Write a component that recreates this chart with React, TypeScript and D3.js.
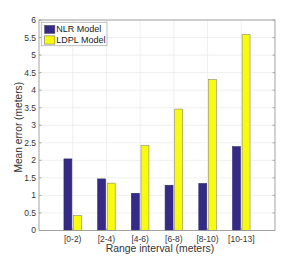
import * as d3 from "d3"

const categories = ["[0-2)", "[2-4)", "[4-6)", "[6-8)", "[8-10)", "[10-13]"]
const seriesNames = ["NLR Model", "LDPL Model"]
const nlrValues = [2.04, 1.47, 1.06, 1.29, 1.34, 2.39]
const ldplValues = [0.43, 1.35, 2.42, 3.46, 4.3, 5.59]
const yTicks = [0, 0.5, 1, 1.5, 2, 2.5, 3, 3.5, 4, 4.5, 5, 5.5, 6]
const colors = ["#352A87", "#F9FB0E"]

const W = 304
const H = 260
const margin = { left: 39, right: 29, top: 20, bottom: 29.5 }

export default function App() {
  const innerW = W - margin.left - margin.right
  const innerH = H - margin.top - margin.bottom

  // categories sit at 1..n on a 0..n+1 linear axis, like MATLAB's bar()
  const x = d3.scaleLinear().domain([0, categories.length + 1]).range([0, innerW])
  const y = d3.scaleLinear().domain([0, 6]).range([innerH, 0])
  const step = x(1) - x(0)
  const barW = step * 0.235
  const gap = step * 0.05

  const series = [nlrValues, ldplValues]
  const font = "'Liberation Sans', Arial, sans-serif"

  return (
    <svg width={W} height={H} style={{ position: "absolute", left: 0, top: 0 }} fontFamily={font}>
      <rect width={W} height={H} fill="#fff" />
      <g transform={`translate(${margin.left},${margin.top})`}>
        {/* grid */}
        {yTicks.map((t) => (
          <line key={"gy" + t} x1={0} x2={innerW} y1={y(t)} y2={y(t)} stroke="#ebebeb" strokeWidth={0.8} />
        ))}
        {categories.map((c, i) => (
          <line key={"gx" + c} x1={x(i + 1)} x2={x(i + 1)} y1={0} y2={innerH} stroke="#ebebeb" strokeWidth={0.8} />
        ))}

        {/* bars */}
        {series.map((vals, s) =>
          vals.map((v, i) => {
            const cx = x(i + 1)
            const bx = s === 0 ? cx - gap / 2 - barW : cx + gap / 2
            return (
              <rect
                key={s + "-" + i}
                x={bx}
                y={y(v)}
                width={barW}
                height={y(0) - y(v)}
                fill={colors[s]}
                stroke={s === 0 ? "#2a2a6a" : "#8a8a6a"}
                strokeWidth={0.6}
              />
            )
          }),
        )}

        {/* box */}
        <rect x={0} y={0} width={innerW} height={innerH} fill="none" stroke="#9a9a9a" strokeWidth={0.9} />

        {/* y ticks */}
        {yTicks.map((t) => (
          <g key={"yt" + t}>
            <line x1={0} x2={2.5} y1={y(t)} y2={y(t)} stroke="#9a9a9a" strokeWidth={0.8} />
            <line x1={innerW - 2.5} x2={innerW} y1={y(t)} y2={y(t)} stroke="#9a9a9a" strokeWidth={0.8} />
            <text x={-3} y={y(t)} dy="0.35em" textAnchor="end" fontSize={8.5} fill="#333">
              {d3.format("")(t)}
            </text>
          </g>
        ))}

        {/* x ticks */}
        {categories.map((c, i) => (
          <g key={"xt" + c}>
            <line x1={x(i + 1)} x2={x(i + 1)} y1={innerH} y2={innerH - 2.5} stroke="#9a9a9a" strokeWidth={0.8} />
            <text x={x(i + 1)} y={innerH + 11} textAnchor="middle" fontSize={8.5} fill="#333">
              {c}
            </text>
          </g>
        ))}

        {/* legend */}
        <g transform="translate(2.3,2.3)">
          <rect x={0} y={0} width={65.7} height={23.4} fill="#fff" stroke="#b0b0b0" strokeWidth={0.8} />
          {seriesNames.map((n, k) => (
            <g key={n} transform={`translate(0,${k * 10.6})`}>
              <rect x={3.2} y={3} width={10.4} height={8.2} fill={colors[k]} stroke="#555" strokeWidth={0.5} />
              <text x={15} y={10.2} fontSize={9} fill="#222">
                {n}
              </text>
            </g>
          ))}
        </g>
      </g>

      <text x={margin.left + innerW / 2 + 3} y={252} textAnchor="middle" fontSize={10.4} fill="#333">
        Range interval (meters)
      </text>
      <text transform={`translate(21.5,${margin.top + innerH / 2 + 2}) rotate(-90)`} textAnchor="middle" fontSize={10.2} fill="#333">
        Mean error (meters)
      </text>
    </svg>
  )
}
